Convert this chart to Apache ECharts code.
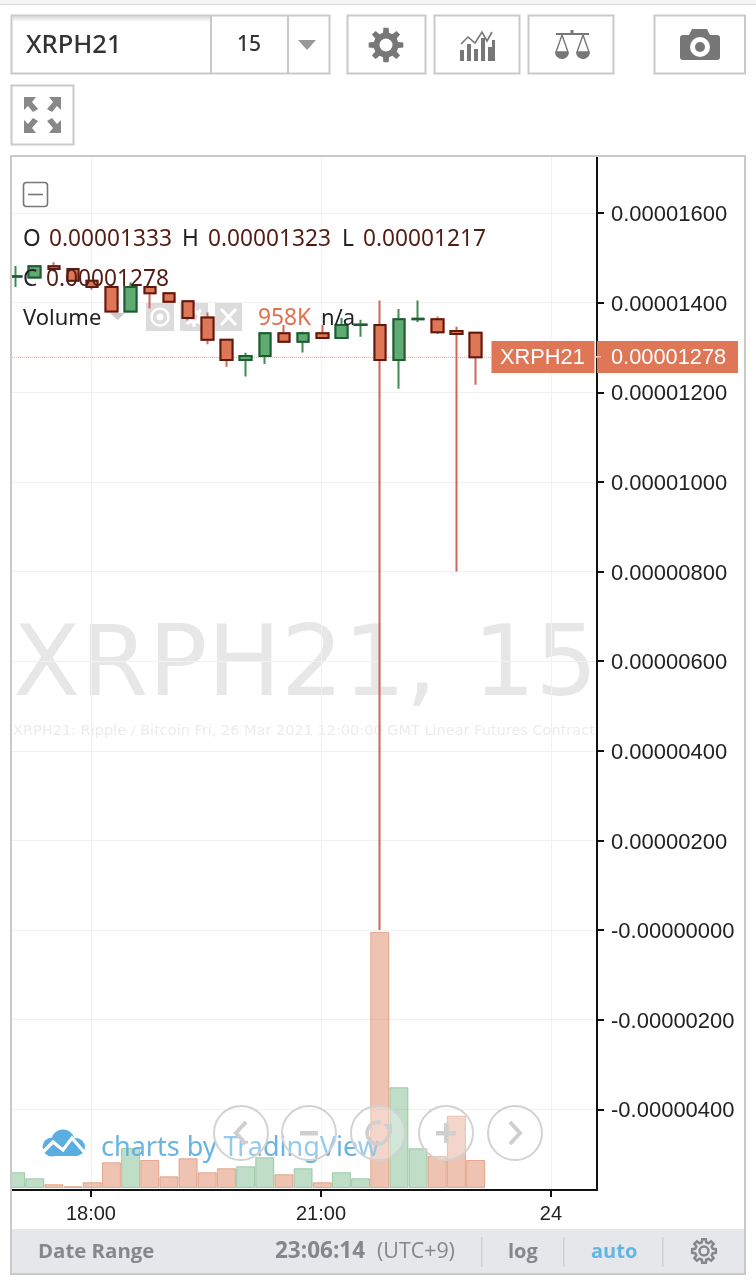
<!DOCTYPE html>
<html><head><meta charset="utf-8">
<style>html,body{margin:0;padding:0;background:#fff}#c{width:756px;height:1280px}</style>
<script src="https://cdn.jsdelivr.net/npm/echarts@6/dist/echarts.min.js"></script>
</head><body><div id="c"></div>
<script>
const barTimes = ["17:00","17:15","17:30","17:45","18:00","18:15","18:30","18:45","19:00","19:15","19:30","19:45","20:00","20:15","20:30","20:45","21:00","21:15","21:30","21:45","22:00","22:15","22:30","22:45","23:00"];
const opens  = [0.00001458,0.00001456,0.00001481,0.00001475,0.00001449,0.00001435,0.00001380,0.00001435,0.00001421,0.00001403,0.00001367,0.00001317,0.00001272,0.00001281,0.00001332,0.00001313,0.00001332,0.00001321,0.00001350,0.00001350,0.00001272,0.00001363,0.00001363,0.00001337,0.00001333];
const closes = [0.00001459,0.00001481,0.00001475,0.00001449,0.00001435,0.00001380,0.00001435,0.00001421,0.00001402,0.00001366,0.00001317,0.00001272,0.00001281,0.00001332,0.00001313,0.00001332,0.00001321,0.00001350,0.00001351,0.00001272,0.00001363,0.00001364,0.00001334,0.00001330,0.00001278];
const lows   = [0.00001435,0.00001456,0.00001469,0.00001449,0.00001429,0.00001380,0.00001380,0.00001387,0.00001402,0.00001360,0.00001307,0.00001257,0.00001235,0.00001263,0.00001313,0.00001289,0.00001321,0.00001321,0.00001324,0.00000000,0.00001208,0.00001357,0.00001330,0.00000800,0.00001217];
const highs  = [0.00001482,0.00001481,0.00001490,0.00001475,0.00001449,0.00001435,0.00001445,0.00001435,0.00001421,0.00001403,0.00001378,0.00001317,0.00001288,0.00001332,0.00001350,0.00001335,0.00001350,0.00001366,0.00001362,0.00001405,0.00001386,0.00001405,0.00001369,0.00001346,0.00001333];
const volumes = [537,332,127,58,195,879,1368,958,400,1016,537,674,742,1050,469,674,195,537,332,8755,3444,1358,1094,2473,958];
const lastPrice = 0.00001278;
const priceTicks = [0.000016,0.000014,0.000012,0.00001,0.000008,0.000006,0.000004,0.000002,0,-0.000002,-0.000004];
const priceLabels = ["0.00001600","0.00001400","0.00001200","0.00001000","0.00000800","0.00000600","0.00000400","0.00000200","-0.00000000","-0.00000200","-0.00000400"];
const timeTicks = ["18:00","21:00","24:00"];
const timeLabels = ["18:00","21:00","24"];

const barShift = 1; // the platform draws bars about a pixel right of its time ticks
const toMin = s => { const p = s.split(":"); return +p[0]*60 + +p[1]; };
const RED='#df7656', GREEN='#5fab72', REDB='#5a1b10', GREENB='#1f5c34', REDW='#d2655c', GREENW='#3f8b50';
const sans='"Liberation Sans",Arial,sans-serif', ui='"Noto Sans",sans-serif', mono='"DejaVu Sans",sans-serif';
const tw = (text,x,y,font,fill,extra) => ({type:'text',z:50,silent:true,style:Object.assign({text,x,y,font,fill,textVerticalAlign:'middle'},extra||{})});
const rect = (x,y,w,h,fill,stroke,lw,z) => ({type:'rect',z:z==null?50:z,silent:true,shape:{x,y,width:w,height:h},style:{fill:fill||'none',stroke:stroke||'none',lineWidth:lw||0}});
const line = (pts,stroke,lw,z,op) => ({type:'polyline',z:z==null?50:z,silent:true,shape:{points:pts},style:{fill:'none',stroke,lineWidth:lw,opacity:op==null?1:op}});
const poly = (pts,fill,z) => ({type:'polygon',z:z==null?50:z,silent:true,shape:{points:pts},style:{fill}});
const circ = (cx,cy,r,fill,stroke,lw,z) => ({type:'circle',z:z==null?50:z,silent:true,shape:{cx,cy,r},style:{fill:fill||'none',stroke:stroke||'none',lineWidth:lw||0}});
function gearPts(cx,cy,ro,ri,n){const p=[];for(let i=0;i<n;i++){const a=i/n*2*Math.PI,s=Math.PI/n;[[-.62,ri],[-.38,ro],[.38,ro],[.62,ri]].forEach(t=>{const b=a+t[0]*s*1.0;p.push([cx+t[1]*Math.cos(b),cy+t[1]*Math.sin(b)]);});}return p;}

const BORDER='#c9c9c9', ICON='#777';
const g=[];
// page top
g.push(rect(0,0,756,4,'#f6f6f6',null,0,1), rect(0,4,756,1,'#d8d8d8',null,0,1));
// toolbar
g.push(rect(11.5,15.5,318,58,'#fff',BORDER,2));
g.push({type:'rect',z:50,silent:true,shape:{x:13,y:16,width:197,height:6},style:{fill:new echarts.graphic.LinearGradient(0,0,0,1,[{offset:0,color:'#d6d6d6'},{offset:1,color:'#ffffff'}])}});
g.push(rect(210,15,2,58,BORDER), rect(287,15,2,58,BORDER));
g.push(tw('XRPH21',26,46,'500 25.5px "Noto Sans",sans-serif','#333'));
g.push(tw('15',237,45,'500 21px "Noto Sans",sans-serif','#333'));
g.push(poly([[298,40],[316,40],[307,50]],'#999'));
[[347.5,78],[434.5,85],[528.5,85],[654.5,90.5]].forEach(b=>g.push(rect(b[0],15.5,b[1],58,'#fff',BORDER,2)));
g.push(rect(11.5,85.5,62,59,'#fff',BORDER,2));
// gear
g.push(poly(gearPts(386,45,17.5,12.5,8),ICON), circ(386,45,6.5,'#fff'));
// indicators
[[460,50,61],[467,44,61],[474,49,61],[481,38,61],[488,47,61],[492,40,61]].forEach(b=>g.push(rect(b[0],b[1],b[0]===492?3:4,b[2]-b[1],ICON)));
g.push(line([[461,44],[468,37],[475,43],[482,32],[487,41],[492,32]],ICON,1.6));
// scales
g.push(line([[556,34],[589,34]],ICON,2), line([[572,30],[572,34]],ICON,3));
g.push(line([[562,35],[556,52],[568,52],[562,35]],ICON,1.4), line([[583,35],[577,52],[589,52],[583,35]],ICON,1.4));
[[562],[583]].forEach(a=>g.push({type:'sector',z:50,silent:true,shape:{cx:a[0],cy:52,r:7,r0:0,startAngle:0,endAngle:Math.PI},style:{fill:ICON}}));
// camera
g.push(poly([[689,35],[692,29],[707,29],[710,35]],ICON));
g.push({type:'rect',z:50,silent:true,shape:{x:680,y:35,width:40,height:25,r:3},style:{fill:ICON}});
g.push(circ(700,47,10,'#fff'), circ(700,47,5,ICON));
// expand
[[[24,97],[36,97],[32,102],[38,109],[33,112],[28,106],[24,110]],
 [[61,97],[49,97],[53,102],[47,109],[52,112],[57,106],[61,110]],
 [[24,133],[36,133],[32,128],[38,121],[33,118],[28,124],[24,120]],
 [[61,133],[49,133],[53,128],[47,121],[52,118],[57,124],[61,120]]].forEach(p=>g.push(poly(p,'#888')));
// frame and outside-left mask
g.push(rect(0,150,11,1100,'#fff',null,0,39));
g.push(rect(11,156,734,1118,'none',BORDER,2,40));
g.push(rect(12,1229,732,44,'#e6e7ea',null,0,41));
g.push(tw('Date Range',38,1252,'bold 20.4px "Open Sans",sans-serif','#85878c'));
g.push(tw('23:06:14',275,1252,'bold 22.5px "Open Sans",sans-serif','#85878c'));
g.push(tw('(UTC+9)',377,1252,'21.4px "Open Sans",sans-serif','#85878c'));
[481,563,662].forEach(x=>g.push(rect(x,1237,1.5,30,'#cfd0d3')));
g.push(tw('log',508,1252,'bold 20px "Open Sans",sans-serif','#85878c'));
g.push(tw('auto',591,1252,'bold 20px "Open Sans",sans-serif','#62b6e3'));
g.push({type:'polygon',z:50,silent:true,shape:{points:gearPts(704,1251,12,9,8)},style:{fill:'none',stroke:'#85878c',lineWidth:2.5}}, circ(704,1251,4.5,'none','#85878c',2.5));
// watermark
g.push({type:'text',z:0,silent:true,style:{text:'XRPH21,',x:13,y:670,font:'98px '+mono,fill:'#e7e7e7',textVerticalAlign:'middle'}});
g.push({type:'text',z:0,silent:true,style:{text:'15',x:473,y:670,font:'98px '+mono,fill:'#e7e7e7',textVerticalAlign:'middle'}});
g.push({type:'text',z:0,silent:true,style:{text:'XRPH21: Ripple / Bitcoin Fri, 26 Mar 2021 12:00:00 GMT Linear Futures Contract',x:13,y:731,font:'14.5px '+mono,fill:'#ececec',textVerticalAlign:'middle'}});
// legend
g.push({type:'rect',z:50,silent:true,shape:{x:23.5,y:182.5,width:24,height:24,r:3},style:{fill:'none',stroke:'#777',lineWidth:1.6}}, line([[28,194.5],[43,194.5]],'#777',1.6));
const DK='#541d14', BK='#222', LF='22.7px '+ui;
g.push(tw('O',23,240,LF,BK),tw('0.00001333',49,240,LF,DK),tw('H',182,240,LF,BK),tw('0.00001323',208,240,LF,DK),tw('L',342,240,LF,BK),tw('0.00001217',363,240,LF,DK));
g.push(tw('C',23,280,LF,BK),tw('0.00001278',46,280,LF,DK));
g.push(tw('Volume',23,319,'22px '+ui,BK),poly([[110,313],[125,313],[117.5,320]],'#ccc',1));
g.push(rect(146,303,28,28,'#dcdcdc',null,0,1),rect(180,303,28,28,'#dcdcdc',null,0,1),rect(215,303,27,28,'#dcdcdc',null,0,1));
g.push(circ(160,317,8.5,'none','#fff',2.5,1),circ(160,317,3.5,'#fff',null,0,1));
g.push(poly(gearPts(194,317,10,7,8),'#fff',1),circ(194,317,3.5,'#dcdcdc',null,0,1));
g.push(line([[221,309],[236,325]],'#fff',3,1),line([[236,309],[221,325]],'#fff',3,1));
g.push(tw('958K',258,319,LF,'#e0714e'),tw('n/a',321,319,'22px '+ui,BK));
// last price tags
g.push(rect(491.5,341,103,32,'#df7656'),rect(597,341,141,32,'#df7656'),rect(595,356,6,1.5,'#f3c3b4'));
g.push(tw('XRPH21',500,358,'21.8px '+sans,'#fff'),tw('0.00001278',611,358,'21.8px '+sans,'#fff'));
// tradingview logo
const B='#5aaee2';
g.push(circ(52,1147,9.5,B,null,0,45),circ(63,1141,11.5,B,null,0,45),circ(76,1147,9,B,null,0,45),rect(50,1146,28,10,B,null,0,45));
g.push(line([[42,1153],[53,1142],[63,1150],[72,1138],[84,1152]],'#fff',3.2,46));
g.push(tw('charts by TradingView',101,1148,'27px "Noto Sans",sans-serif',B,{opacity:.92}));
// nav buttons
const NAVY=1133, NC='#cfcfcf';
[241,309,378,446,515].forEach(x=>g.push(circ(x,NAVY,27,'rgba(255,255,255,0.3)','#d2d2d2',2,60)));
g.push(line([[246,1122],[236,1133],[246,1144]],NC,4,61),rect(300,1131,18,4.5,NC,null,0,61));
g.push({type:'arc',z:61,silent:true,shape:{cx:378,cy:1133,r:11,startAngle:-0.2,endAngle:-1.2+2*Math.PI*0.98,clockwise:true},style:{fill:'none',stroke:NC,lineWidth:3.5}});
g.push(poly([[383,1124],[392,1124],[392,1134]],NC,61));
g.push(rect(436,1131,20,4.5,NC,null,0,61),rect(444,1123,4.5,20,NC,null,0,61));
g.push(line([[510,1122],[520,1133],[510,1144]],NC,4,61));

const X0=1018.2, X1=1476;
const barX = t => toMin(t)+barShift;
const candleData = barTimes.map((t,i)=>[barX(t),opens[i],closes[i],lows[i],highs[i]]);
const bodyData = barTimes.map((t,i)=>[barX(t),opens[i],closes[i],Math.min(opens[i],closes[i]),Math.max(opens[i],closes[i])]);
const volData = barTimes.map((t,i)=>{const up=closes[i]>opens[i];return {value:[barX(t),volumes[i]],itemStyle:{color:up?'rgba(95,171,114,0.4)':'rgba(214,112,72,0.42)',borderColor:up?'rgba(95,171,114,0.5)':'rgba(214,112,72,0.5)',borderWidth:1}};});

const chart=echarts.init(document.getElementById('c'),null,{renderer:'canvas'});
chart.setOption({
  animation:false,
  backgroundColor:'#fff',
  graphic:{elements:g},
  grid:{left:12,top:157,width:585,height:1033,show:false},
  xAxis:{type:'value',min:X0,max:X1,position:'bottom',
    axisLine:{show:true,onZero:false,lineStyle:{color:'#111',width:2}},
    axisTick:{show:true,length:7,customValues:timeTicks.map(toMin),lineStyle:{color:'#111',width:2}},
    axisLabel:{show:true,margin:14,customValues:timeTicks.map(toMin),color:'#222',fontFamily:'Liberation Sans',fontSize:20,
      formatter:v=>timeLabels[timeTicks.map(toMin).indexOf(v)]},
    splitLine:{show:true,lineStyle:{color:'#f1f1f1',width:1}}},
  yAxis:[{type:'value',min:-0.0000058,max:0.00001725,position:'right',scale:false,
      axisLine:{show:true,onZero:false,lineStyle:{color:'#111',width:2}},
      axisTick:{show:true,length:7,customValues:priceTicks,lineStyle:{color:'#111',width:2}},
      axisLabel:{show:true,margin:14,customValues:priceTicks,color:'#222',fontFamily:'Liberation Sans',fontSize:22,align:'left',verticalAlign:'top',lineHeight:4,
        formatter:v=>priceLabels[priceTicks.findIndex(t=>Math.abs(t-v)<1e-9)]},
      splitLine:{show:true,lineStyle:{color:'#f1f1f1',width:1}}},
    {type:'value',min:-70,max:35260,show:false,splitLine:{show:false}}],
  series:[
    {type:'line',name:'last',z:2,showSymbol:false,silent:true,data:[[X0,lastPrice],[X1,lastPrice]],lineStyle:{color:'#f4a190',type:'dotted',width:1}},
    {type:'bar',name:'Volume',yAxisIndex:1,barWidth:19,z:3,clip:true,data:volData},
    {type:'candlestick',name:'wick',barWidth:12,z:4,data:candleData,
      itemStyle:{color:GREEN,color0:RED,borderColor:GREENW,borderColor0:REDW,borderWidth:2}},
    {type:'candlestick',name:'body',barWidth:12,z:5,data:bodyData,
      itemStyle:{color:GREEN,color0:RED,borderColor:GREENB,borderColor0:REDB,borderWidth:2}}
  ]
});
</script></body></html>
